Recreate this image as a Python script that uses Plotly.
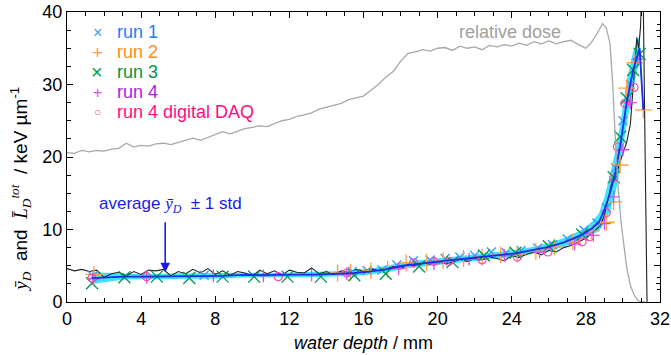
import plotly.graph_objects as go

# ---------------- data ----------------
dose_depth = [0.0, 0.4, 0.8, 1.2, 1.6, 2.0, 2.4, 2.8, 3.2, 3.6, 4.0, 4.4, 4.8, 5.2, 5.6, 6.0, 6.4, 6.8,
              7.2, 7.6, 8.0, 8.4, 8.8, 9.2, 9.6, 10.0, 10.4, 10.8, 11.2, 11.6, 12.0, 12.4, 12.8, 13.2,
              13.6, 14.0, 14.4, 14.8, 15.2, 15.6, 16.0, 16.4, 16.8, 17.2, 17.6, 18.0, 18.4, 18.8, 19.2,
              19.6, 20.0, 20.4, 20.8, 21.2, 21.6, 22.0, 22.4, 22.8, 23.2, 23.6, 24.0, 24.4, 24.8, 25.2,
              25.6, 26.0, 26.4, 26.8, 27.2, 27.6, 28.0, 28.3, 28.6, 28.9, 29.1, 29.3, 29.45, 29.6, 29.75,
              29.9, 30.0, 30.2, 30.4, 30.6, 30.8, 31.0, 31.2]
rel_dose = [20.6, 20.5, 20.9, 20.7, 20.9, 20.8, 21.1, 21.2, 21.9, 21.4, 21.6, 21.5, 21.8, 21.9, 21.7,
            22.0, 22.4, 22.6, 22.3, 22.7, 23.0, 23.5, 23.2, 23.6, 23.9, 24.1, 24.3, 24.2, 24.6, 25.0,
            25.2, 25.6, 25.8, 26.1, 26.6, 26.9, 27.2, 27.4, 27.9, 28.1, 28.4, 29.2, 30.0, 31.0, 31.8,
            33.2, 34.3, 34.5, 34.8, 34.6, 35.0, 35.1, 34.7, 35.3, 35.0, 35.2, 34.8, 35.4, 35.2, 35.5,
            35.3, 35.7, 35.4, 35.9, 35.6, 36.0, 35.6, 35.9, 36.1, 35.5, 35.0, 35.8, 37.0, 38.4, 37.8,
            35.7, 30.0, 22.0, 15.5, 11.0, 9.0, 4.8, 2.3, 1.0, 0.2, 0.0, 0.0]

let_depth = [0.0, 0.4, 0.8, 1.2, 1.6, 2.0, 2.4, 2.8, 3.2, 3.6, 4.0, 4.4, 4.8, 5.2, 5.6, 6.0, 6.4, 6.8,
             7.2, 7.6, 8.0, 8.4, 8.8, 9.2, 9.6, 10.0, 10.4, 10.8, 11.2, 11.6, 12.0, 12.4, 12.8, 13.2,
             13.6, 14.0, 14.4, 14.8, 15.2, 15.6, 16.0, 16.4, 16.8, 17.2, 17.6, 18.0, 18.4, 18.8, 19.2,
             19.6, 20.0, 20.4, 20.8, 21.2, 21.6, 22.0, 22.4, 22.8, 23.2, 23.6, 24.0, 24.4, 24.8, 25.2,
             25.6, 26.0, 26.4, 26.8, 27.2, 27.6, 28.0, 28.4, 28.8, 29.0, 29.2, 29.4, 29.6, 29.8, 30.0,
             30.2, 30.4, 30.5, 30.6, 30.75, 30.85, 30.95, 31.0, 31.1, 31.2, 31.3]
let_tot = [4.6, 4.3, 4.5, 4.2, 4.4, 3.4, 3.9, 4.1, 3.6, 4.2, 3.8, 4.4, 4.3, 4.5, 3.6, 4.2, 3.9, 4.5,
           4.0, 4.6, 3.8, 4.3, 3.7, 4.2, 4.0, 3.6, 4.4, 3.9, 4.3, 3.7, 4.4, 4.1, 4.0, 4.7, 3.9, 4.2,
           3.8, 4.3, 4.1, 4.5, 4.2, 4.6, 4.3, 4.5, 4.9, 4.6, 5.2, 5.0, 5.4, 5.2, 5.6, 5.3, 5.5, 5.9,
           5.6, 6.0, 5.8, 6.2, 6.0, 5.7, 6.4, 6.1, 6.6, 6.9, 6.5, 7.1, 6.9, 7.5, 7.8, 8.3, 8.8, 9.6,
           10.6, 12.0, 14.2, 16.5, 17.0, 19.0, 20.5, 22.0, 24.5, 28.0, 30.5, 36.5, 35.0, 38.0, 42.0,
           41.0, 20.0, 0.0]

avg_x = [1.35, 2.2, 3.1, 4.0, 4.85, 5.7, 6.6, 7.5, 8.4, 9.2, 10.1, 11.0, 11.9, 12.8, 13.7, 14.6,
         15.5, 16.3, 17.2, 18.1, 19.0, 19.9, 20.8, 21.6, 22.5, 23.4, 24.2, 25.1, 26.0, 26.9, 27.8,
         28.3, 28.7, 29.0, 29.3, 29.6, 29.85, 30.2, 30.55, 30.9, 31.1]
avg_y = [3.3, 3.4, 3.5, 3.5, 3.5, 3.6, 3.6, 3.6, 3.6, 3.7, 3.7, 3.7, 3.7, 3.8, 3.8, 3.9, 4.0, 4.2,
         4.5, 5.0, 5.3, 5.5, 5.8, 6.0, 6.3, 6.5, 6.7, 7.1, 7.6, 8.3, 9.3, 10.1, 11.0, 12.7, 15.0,
         18.0, 21.5, 27.5, 32.0, 35.0, 26.5]
avg_std = [0.8, 0.6, 0.4, 0.35, 0.35, 0.35, 0.35, 0.35, 0.35, 0.35, 0.35, 0.35, 0.35, 0.35, 0.35,
           0.35, 0.4, 0.4, 0.45, 0.45, 0.45, 0.45, 0.45, 0.45, 0.45, 0.45, 0.5, 0.5, 0.55, 0.6, 0.7,
           0.9, 1.2, 1.8, 2.5, 3.0, 3.0, 3.0, 2.6, 1.8, 0.8]

run1_x = [1.4, 7.4, 15.4, 16.2, 17.0, 17.8, 18.7, 19.6, 20.4, 21.2, 22.0, 22.9, 23.7, 24.5, 25.4,
          26.2, 27.0, 27.9, 28.6, 29.1, 29.6, 30.0, 30.4]
run1_y = [3.6, 3.7, 4.2, 4.3, 4.4, 5.1, 5.7, 5.8, 6.0, 6.2, 6.4, 6.9, 6.8, 7.1, 7.4, 7.9, 8.7, 9.9,
          10.9, 13.0, 18.5, 25.0, 30.0]
run2_x = [1.45, 14.6, 15.3, 16.4, 17.3, 18.3, 19.4, 20.3, 21.4, 22.4, 23.4, 24.3, 25.3, 26.3, 27.3,
          28.3, 29.1, 29.5, 29.85, 30.2, 30.65, 31.1]
run2_y = [3.8, 4.0, 4.1, 4.3, 4.5, 5.4, 5.5, 5.7, 6.0, 6.2, 6.5, 6.6, 7.0, 7.6, 8.3, 9.8, 11.0, 13.8,
          18.9, 29.5, 33.0, 26.5]
run3_x = [1.35, 3.1, 4.85, 6.6, 8.4, 10.1, 11.9, 13.7, 15.5, 17.2, 19.0, 20.8, 22.5, 24.2, 26.0,
          27.8, 29.5, 29.85, 30.2, 30.55, 30.9]
run3_y = [2.6, 3.4, 3.5, 3.3, 3.5, 3.5, 3.5, 3.5, 3.7, 3.9, 4.9, 5.5, 6.4, 6.8, 7.7, 9.3, 17.2, 22.8,
          28.1, 32.0, 34.2]
run4_x = [1.4, 4.3, 7.9, 10.6, 13.2, 15.1, 17.9, 19.8, 21.7, 23.6, 25.5, 27.4, 28.4, 29.0, 29.5,
          30.0, 30.4, 30.8]
run4_y = [3.2, 3.4, 3.6, 3.6, 3.7, 3.9, 4.6, 5.3, 5.9, 6.4, 6.9, 8.0, 9.2, 10.8, 14.5, 21.0, 27.5,
          33.5]
daq_x = [1.35, 4.3, 11.4, 15.1, 18.7, 19.8, 20.6, 22.4, 24.3, 25.95, 27.8, 28.2, 29.1, 29.5, 29.7,
         30.1, 30.6]
daq_y = [3.3, 3.5, 3.5, 4.0, 5.4, 5.6, 5.6, 5.8, 6.2, 6.9, 8.3, 9.0, 12.3, 17.1, 21.4, 27.4, 29.6]

x_ticks = [0, 4, 8, 12, 16, 20, 24, 28, 32]
y_ticks = [0, 10, 20, 30, 40]

legend_labels = ["run 1", "run 2", "run 3", "run 4", "run 4 digital DAQ"]
legend_text_colors = ["#1482ff", "#ff8a1a", "#00963c", "#a41ee6", "#ff0a84"]
legend_glyphs = ["×", "+", "×", "+", "○"]

FONT = "Liberation Sans, Arial, sans-serif"
SERIF = "Liberation Serif, Times New Roman, serif"

C1, C2, C3, C4, C5 = "#3a9bff", "#ffa040", "#00a04a", "#d84cf0", "#ff4aa5"
marker_colors = [C1, C2, C3, C4, C5]
glyph_sizes = [16, 19, 20, 16, 12]

fig = go.Figure()

upper = [a + s for a, s in zip(avg_y, avg_std)]
lower = [a - s for a, s in zip(avg_y, avg_std)]
fig.add_trace(go.Scatter(x=avg_x, y=upper, mode="lines", line=dict(width=0, color="rgba(0,0,0,0)"),
                         showlegend=False, hoverinfo="skip"))
fig.add_trace(go.Scatter(x=avg_x, y=lower, mode="lines", line=dict(width=0, color="rgba(0,0,0,0)"),
                         fill="tonexty", fillcolor="rgba(40,225,255,0.9)", showlegend=False,
                         hoverinfo="skip"))

fig.add_trace(go.Scatter(x=let_depth, y=let_tot, mode="lines", line=dict(color="#222222", width=1.1),
                         showlegend=False))

fig.add_trace(go.Scatter(x=run1_x, y=run1_y, mode="markers", name="run 1", showlegend=False,
                         marker=dict(symbol="x-thin", size=9, color=C1, line=dict(width=1.4, color=C1))))
fig.add_trace(go.Scatter(x=run2_x, y=run2_y, mode="markers", name="run 2", showlegend=False,
                         marker=dict(symbol="cross-thin", size=12, color=C2, line=dict(width=1.3, color=C2))))
fig.add_trace(go.Scatter(x=run3_x, y=run3_y, mode="markers", name="run 3", showlegend=False,
                         marker=dict(symbol="x-thin", size=12, color=C3, line=dict(width=1.4, color=C3))))
fig.add_trace(go.Scatter(x=run4_x, y=run4_y, mode="markers", name="run 4", showlegend=False,
                         marker=dict(symbol="cross-thin", size=9, color=C4, line=dict(width=1.3, color=C4))))
fig.add_trace(go.Scatter(x=daq_x, y=daq_y, mode="markers", name="run 4 digital DAQ", showlegend=False,
                         marker=dict(symbol="circle-open", size=8, color=C5, line=dict(width=1.2, color=C5))))

fig.add_trace(go.Scatter(x=avg_x, y=avg_y, mode="lines", line=dict(color="#1530e8", width=1.8),
                         showlegend=False))

fig.add_trace(go.Scatter(x=dose_depth, y=rel_dose, mode="lines", yaxis="y2",
                         line=dict(color="#a8a8a8", width=1.3), showlegend=False))

axis_common = dict(showline=True, linecolor="black", linewidth=1, ticks="inside", mirror="ticks",
                   tickcolor="black", showgrid=False, zeroline=False, automargin=False,
                   tickfont=dict(family=FONT, size=18, color="black"))

fig.update_layout(
    width=671, height=355,
    margin=dict(l=67, r=11, t=12, b=53, autoexpand=False),
    plot_bgcolor="white", paper_bgcolor="white",
    font=dict(family=FONT, color="black"),
    showlegend=False,
    xaxis=dict(range=[0, 32], tickvals=x_ticks, ticklen=6,
               minor=dict(dtick=1, ticks="inside", ticklen=4, tickcolor="black"),
               **axis_common),
    yaxis=dict(range=[0, 40], tickvals=y_ticks, ticklen=6,
               minor=dict(dtick=2.5, ticks="inside", ticklen=4, tickcolor="black"),
               **axis_common),
    yaxis2=dict(range=[0, 40], overlaying="y", side="right", showticklabels=False,
                showline=True, linecolor="black", ticks="inside", tickcolor="black",
                tick0=0, dtick=5, ticklen=6, showgrid=False, zeroline=False, automargin=False,
                minor=dict(dtick=5 / 3, ticks="inside", ticklen=3, tickcolor="black")),
)

# legend built from text (rows 20 px apart)
for i, (lab, tc, g, mc, gs) in enumerate(zip(legend_labels, legend_text_colors, legend_glyphs,
                                             marker_colors, glyph_sizes)):
    ypos = (290 - 20 - 20 * i) / 290
    fig.add_annotation(xref="paper", yref="paper", x=30 / 593, y=ypos, xanchor="center",
                       yanchor="middle", showarrow=False, text=g,
                       font=dict(family=FONT, size=gs, color=mc))
    fig.add_annotation(xref="paper", yref="paper", x=48 / 593, y=ypos, xanchor="left",
                       yanchor="middle", showarrow=False, text=lab,
                       font=dict(family=FONT, size=18, color=tc))

fig.add_annotation(xref="paper", yref="paper", x=-0.078, y=0.39, xanchor="center", yanchor="middle",
                   textangle=-90, showarrow=False,
                   text=(f"<span style='font-family:{SERIF}'><i>ȳ</i><sub><i>D</i></sub></span>  and  "
                         f"<span style='font-family:{SERIF}'><i>L̄</i><sub><i>D</i></sub><sup><i>tot</i></sup></span>"
                         "  / keV µm<sup>-1</sup>"),
                   font=dict(family=FONT, size=19, color="black"))
fig.add_annotation(xref="paper", yref="paper", x=0.5, y=-0.141, xanchor="center", yanchor="middle",
                   showarrow=False, text="<i>water depth</i> / mm",
                   font=dict(family=FONT, size=18, color="black"))

fig.add_annotation(x=5.6, y=13.4, xref="x", yref="y", showarrow=False,
                   text=f"average <span style='font-family:{SERIF}'><i>ȳ</i><sub><i>D</i></sub></span>  ± 1 std",
                   font=dict(family=FONT, size=17, color="#1a1ae6"))
fig.add_annotation(x=5.3, y=4.1, ax=5.3, ay=11.2, xref="x", yref="y", axref="x", ayref="y",
                   text="", showarrow=True, arrowhead=2, arrowsize=1.2, arrowwidth=1.6,
                   arrowcolor="#1a1ae6")
fig.add_annotation(x=23.9, y=37.2, xref="x", yref="y", showarrow=False, text="relative dose",
                   font=dict(family=FONT, size=18, color="#a0a0a0"))

fig.write_html("out.html", config={"displayModeBar": False},
               post_script="document.body.style.margin='0px';")
